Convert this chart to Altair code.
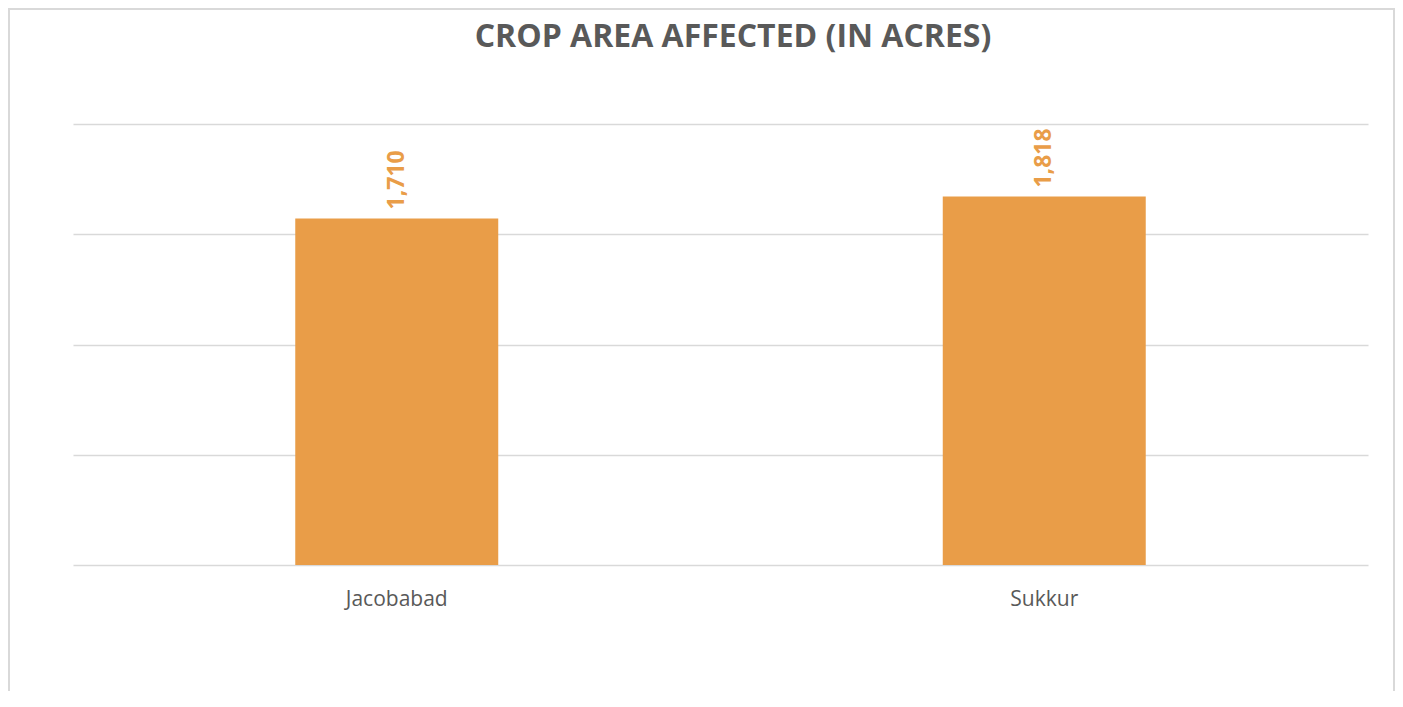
import altair as alt
import pandas as pd

districts = ["Jacobabad", "Sukkur"]
acres = [1710, 1818]
grid_values = [0, 544, 1088, 1632, 2176]
title_text = "CROP AREA AFFECTED (IN ACRES)"

df = pd.DataFrame({"district": districts, "acres": acres})

ORANGE = "#E99D48"
GRAY = "#595959"

base = alt.Chart(df)

x_enc = alt.X(
    "district:N",
    sort=districts,
    title=None,
    scale=alt.Scale(paddingInner=0, paddingOuter=0),
    axis=alt.Axis(
        labelAngle=0,
        labelFont="Open Sans",
        labelFontSize=21,
        labelColor=GRAY,
        labelPadding=23,
        labelBaseline="top",
        domain=False,
        ticks=False,
        grid=False,
    ),
)
y_enc = alt.Y(
    "acres:Q",
    title=None,
    scale=alt.Scale(domain=[0, 2176], nice=False, zero=True),
    axis=alt.Axis(
        values=grid_values,
        labels=False,
        ticks=False,
        domain=False,
        grid=True,
        gridColor="#D9D9D9",
        gridWidth=1.5,
    ),
)

bars = base.mark_bar(color=ORANGE, width=alt.RelativeBandSize(0.3135)).encode(
    x=x_enc, y=y_enc
)

labels = base.mark_text(
    angle=270,
    align="left",
    baseline="middle",
    dx=9,
    font="Open Sans",
    fontSize=23,
    fontWeight="bold",
    color=ORANGE,
).encode(
    x=alt.X("district:N", sort=districts),
    y=alt.Y("acres:Q"),
    text=alt.Text("acres:Q", format=","),
)

border = alt.Chart(alt.Data(values=[{"k": 1}])).mark_rect(
    fill=None, stroke="#D9D9D9", strokeWidth=2
).encode(
    x=alt.value(-64),
    x2=alt.value(1321),
    y=alt.value(-115),
    y2=alt.value(700),
)

title = alt.Chart(alt.Data(values=[{"t": title_text}])).mark_text(
    font="Open Sans",
    fontSize=32,
    fontWeight="bold",
    color=GRAY,
    align="center",
    baseline="alphabetic",
).encode(
    text="t:N",
    x=alt.value(660),
    y=alt.value(-77),
)

chart = (
    alt.layer(border, title, bars, labels)
    .properties(
        width=1295,
        height=441,
        autosize=alt.AutoSizeParams(type="none"),
        padding={"left": 65, "top": 116, "right": 27, "bottom": 126},
        background="white",
    )
    .configure_view(stroke=None)
)

chart.save("out.html", embed_options={"renderer": "svg", "actions": False})
